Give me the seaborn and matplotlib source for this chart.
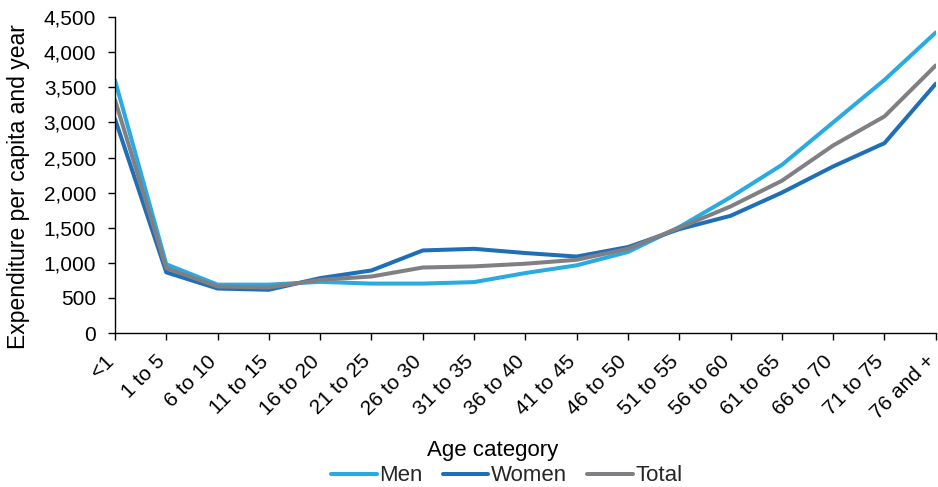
import matplotlib
matplotlib.use("Agg")
import matplotlib.pyplot as plt
import matplotlib.ticker as mticker
import seaborn as sns
import pandas as pd

sns.set_theme(style="white")
plt.rcParams["font.family"] = ["Liberation Sans", "DejaVu Sans"]

# Age categories and expenditure per capita per year
ages = ["<1", "1 to 5", "6 to 10", "11 to 15", "16 to 20", "21 to 25", "26 to 30",
        "31 to 35", "36 to 40", "41 to 45", "46 to 50", "51 to 55", "56 to 60",
        "61 to 65", "66 to 70", "71 to 75", "76 and +"]
men = [3600, 980, 690, 690, 730, 705, 705, 726, 855, 965, 1155, 1510, 1935,
       2395, 3000, 3605, 4280]
women = [3050, 865, 635, 617, 783, 892, 1177, 1200, 1140, 1090, 1225, 1480,
         1670, 2000, 2373, 2705, 3550]
total = [3320, 925, 664, 650, 758, 806, 934, 950, 988, 1044, 1200, 1500, 1803,
         2169, 2672, 3085, 3810]

df = pd.DataFrame({"age": ages * 3,
                   "value": men + women + total,
                   "group": ["Men"] * len(ages) + ["Women"] * len(ages) + ["Total"] * len(ages)})

palette = {"Men": "#29ABE2", "Women": "#1F6FB8", "Total": "#808084"}
tick_fs = 15
label_fs = 16

fig = plt.figure(figsize=(9.38, 4.87), dpi=100)
ax = fig.add_axes([0.1226, 0.316, 0.875, 0.649])
sns.lineplot(data=df, x="age", y="value", hue="group", palette=palette,
             sort=False, linewidth=2.9, ax=ax)

ax.set_xlim(0, len(ages) - 1)
ax.set_ylim(0, 4500)
ax.yaxis.set_major_locator(mticker.MultipleLocator(500))
ax.yaxis.set_major_formatter(mticker.FuncFormatter(lambda v, p: f"{int(v):,}"))

for s in ["top", "right"]:
    ax.spines[s].set_visible(False)
for s in ["left", "bottom"]:
    ax.spines[s].set_color("black")
    ax.spines[s].set_linewidth(1.0)

ax.tick_params(axis="both", which="major", direction="out", length=5, width=1,
               color="black", labelsize=tick_fs, labelcolor="black", left=True, bottom=True)
ax.tick_params(axis="y", pad=8.5)
ax.tick_params(axis="x", pad=16)

# rotated labels: end of the baseline sits under each tick
for lab in ax.get_xticklabels():
    lab.set_rotation(45)
    lab.set_ha("right")
    lab.set_va("baseline")
    lab.set_rotation_mode("anchor")

ax.set_ylabel("Expenditure per capita and year", fontsize=16.5, color="black")
ax.set_xlabel("Age category", fontsize=label_fs, color="black")
ax.xaxis.set_label_coords(0.46, -0.338)
ax.yaxis.set_label_coords(-0.104, 0.465)

ax.legend(loc="center", bbox_to_anchor=(0.5405, 0.023), bbox_transform=fig.transFigure,
          ncol=3, frameon=False, fontsize=label_fs, handlelength=2.05, handletextpad=0.12,
          columnspacing=0.9, borderpad=0.1)

fig.savefig("out.png", dpi=100)
